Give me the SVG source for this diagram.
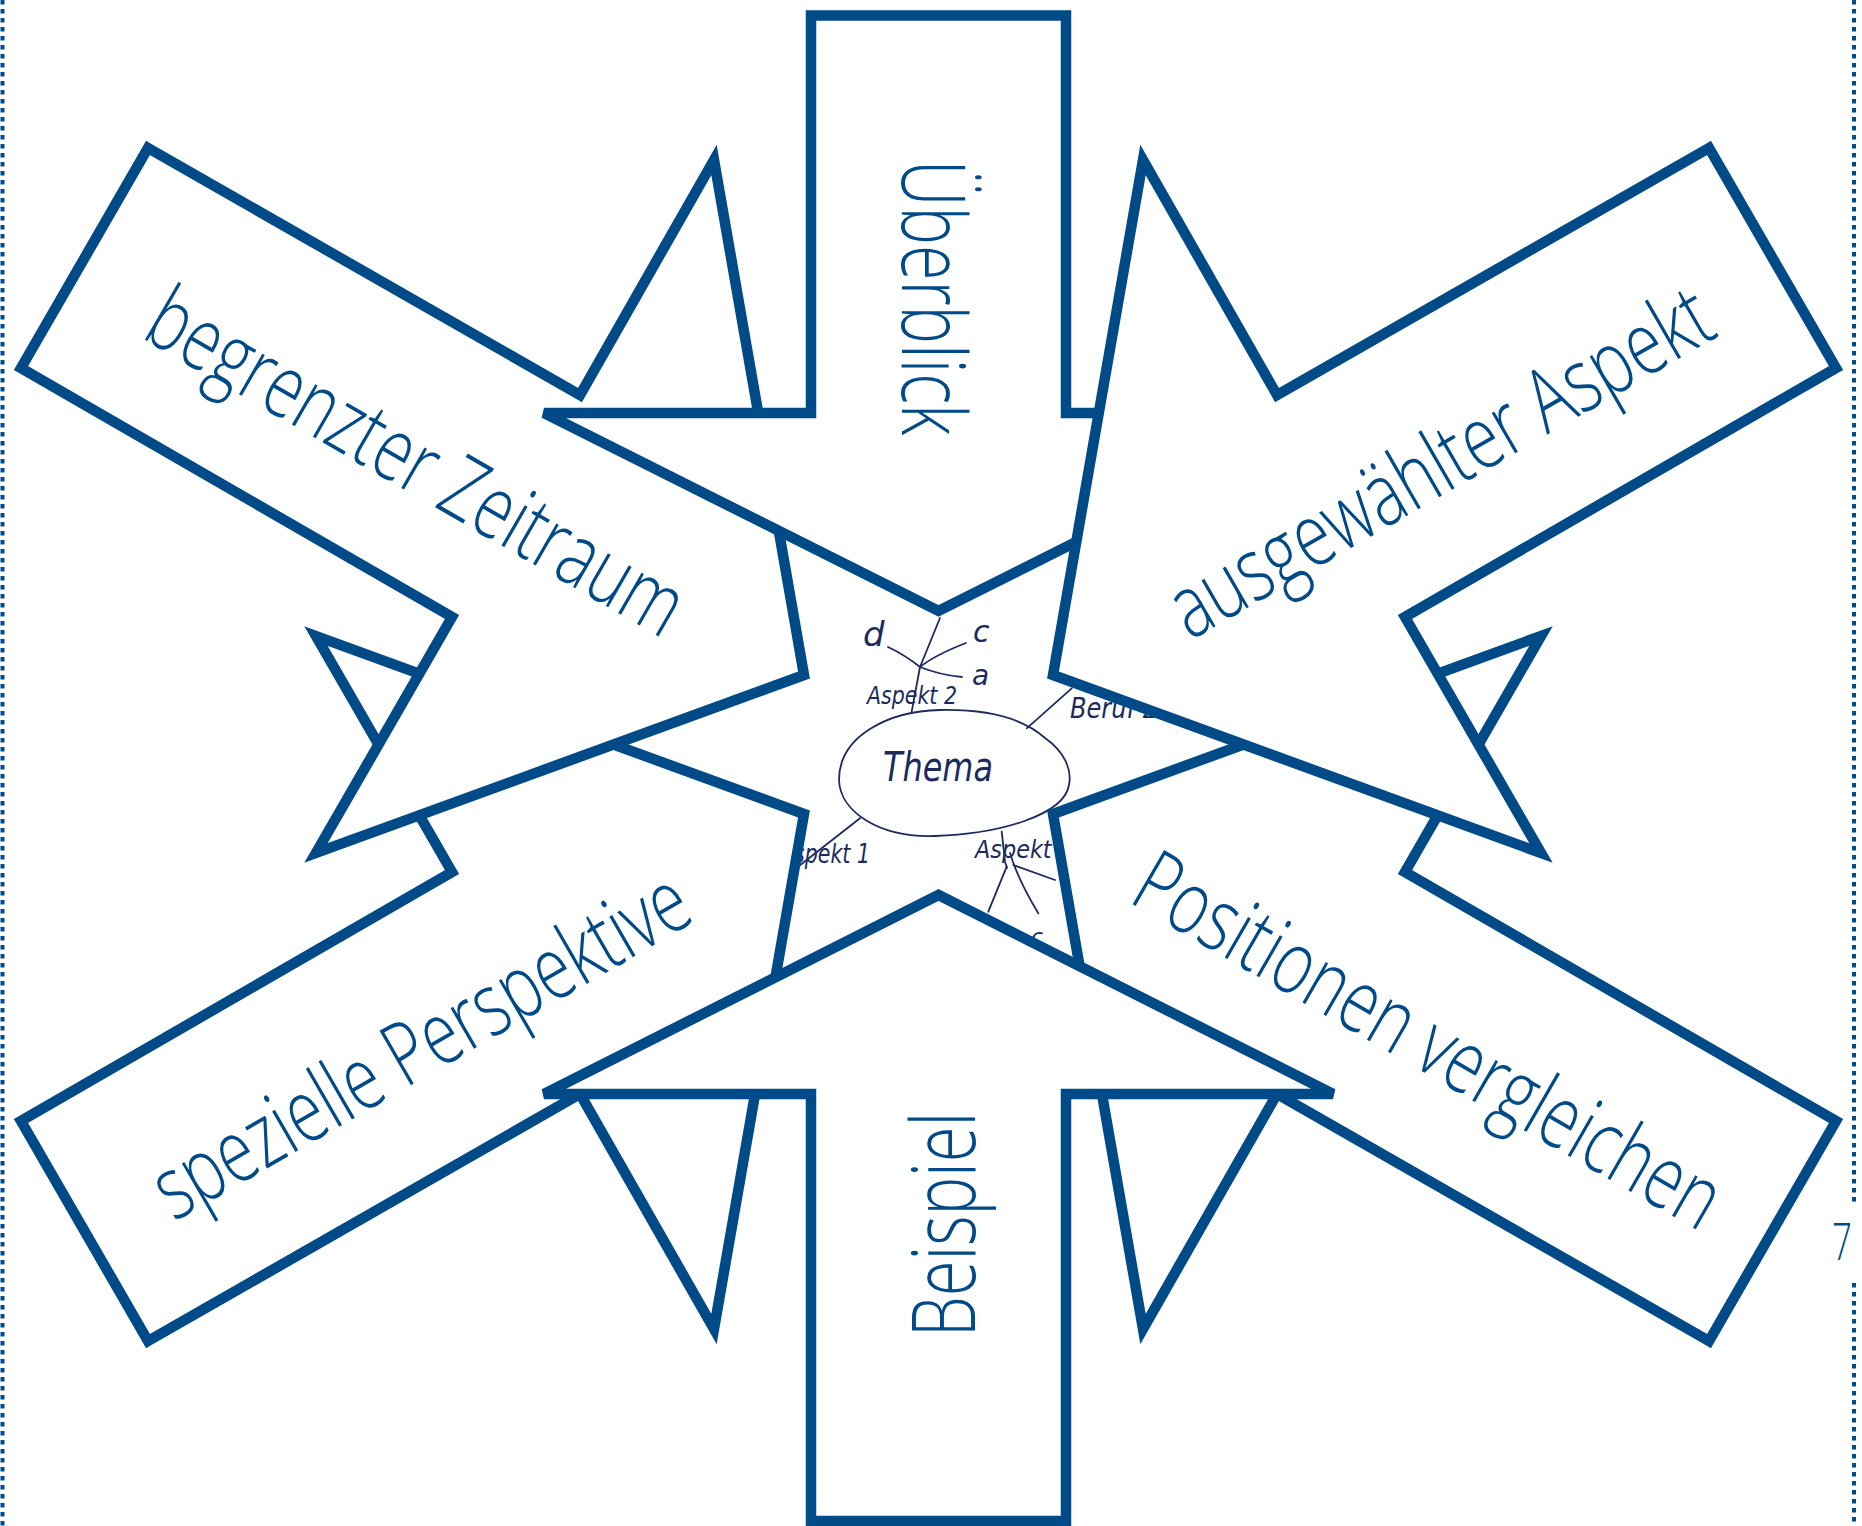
<svg xmlns="http://www.w3.org/2000/svg" width="1862" height="1526" viewBox="0 0 1862 1526">
<style>
.arrow{fill:#ffffff;stroke:#004b87;stroke-width:10.5;stroke-linejoin:miter;stroke-miterlimit:4}
.lbl{font-family:"Open Sans","Lato","Liberation Sans",sans-serif;font-weight:300;font-size:88px;fill:#004b87}
.sk{fill:none;stroke:#1c2a5c;stroke-width:1.8;stroke-linecap:round;stroke-linejoin:round}
.skt{font-family:"DejaVu Sans","Liberation Sans",sans-serif;font-style:italic;font-weight:300;fill:#1c2a5c}
.dots{stroke:#004b87;stroke-width:4;stroke-dasharray:4.5 4.5;fill:none}
</style>
<rect width="1862" height="1526" fill="#ffffff"/>
<g id="sketch">
  <path class="sk" d="M839,780 C839,735 890,711 940,710 C990,709 1025,720 1045,738 C1065,752 1072,770 1069,785 C1064,815 1000,834 935,836 C880,838 840,812 839,780 Z"/>
  <text class="skt" x="883" y="781" font-size="40" textLength="110" lengthAdjust="spacingAndGlyphs">Thema</text>
  <text class="skt" x="867" y="704" font-size="24" textLength="90" lengthAdjust="spacingAndGlyphs">Aspekt 2</text>
  <text class="skt" x="863" y="646" font-size="34">d</text>
  <text class="skt" x="973" y="642" font-size="30">c</text>
  <text class="skt" x="972" y="685" font-size="28">a</text>
  <text class="skt" x="1070" y="718" font-size="28" textLength="88" lengthAdjust="spacingAndGlyphs">Beruf 2</text>
  <text class="skt" x="780" y="863" font-size="26" textLength="90" lengthAdjust="spacingAndGlyphs">Aspekt 1</text>
  <text class="skt" x="975" y="858" font-size="24" textLength="98" lengthAdjust="spacingAndGlyphs">Aspekt 3</text>
  <text class="skt" x="1031" y="944" font-size="22">c</text>
  <g id="connectors">
    <path class="sk" d="M911.7,711.7 L920,667 L940,618"/>
    <path class="sk" d="M920,667 Q905,655 888,647"/>
    <path class="sk" d="M920,667 Q935,655 966,643"/>
    <path class="sk" d="M920,667 Q940,675 962,677"/>
    <path class="sk" d="M1026.7,728.3 L1071.7,688.3"/>
    <path class="sk" d="M860,818.3 L790,873"/>
    <path class="sk" d="M1001.7,831.7 L1005,861.7 L1007,868"/>
    <path class="sk" d="M1006.7,866.7 L988.3,911.7"/>
    <path class="sk" d="M1010,853 Q1018,880 1038.3,913.3"/>
    <path class="sk" d="M1013.3,865 L1055,880"/>
  </g>
</g>
<g id="speziell-perspektive">
  <polygon class="arrow" points="148,1341 580,1094 714,1329 804,814 316,636 452,872 21,1121"/>
  <text class="lbl" transform="translate(174,1222) rotate(-30) scale(0.715,1)" textLength="845" lengthAdjust="spacingAndGlyphs">spezielle Perspektive</text>
</g>
<g id="positionen-vergleichen">
  <polygon class="arrow" points="1709,1341 1277,1094 1143,1329 1053,814 1541,636 1405,872 1836,1121"/>
  <text class="lbl" transform="translate(1127,901) rotate(30) scale(0.715,1)" textLength="926" lengthAdjust="spacingAndGlyphs">Positionen vergleichen</text>
</g>
<g id="begrenzter-zeitraum">
  <polygon class="arrow" points="148,148 580,395 714,160 804,675 316,853 452,617 21,368"/>
  <text class="lbl" transform="translate(140,337) rotate(30) scale(0.715,1)" textLength="845" lengthAdjust="spacingAndGlyphs">begrenzter Zeitraum</text>
</g>
<g id="ueberblick">
  <polygon class="arrow" points="811,15.5 1066,15.5 1066,413 1333,413 938.5,611 544,413 811,413"/>
  <text class="lbl" transform="translate(902,160) rotate(90) scale(0.715,1)" textLength="385" lengthAdjust="spacingAndGlyphs">Überblick</text>
</g>
<g id="ausgewaehlter-aspekt">
  <polygon class="arrow" points="1709,148 1277,395 1143,160 1053,675 1541,853 1405,617 1836,368"/>
  <text class="lbl" transform="translate(1190,641) rotate(-30) scale(0.715,1)" textLength="856" lengthAdjust="spacingAndGlyphs">ausgewählter Aspekt</text>
</g>
<g id="beispiel">
  <polygon class="arrow" points="811,1521 1066,1521 1066,1094 1333,1094 938.5,895 544,1094 811,1094"/>
  <text class="lbl" transform="translate(975,1337) rotate(-90) scale(0.715,1)" textLength="315" lengthAdjust="spacingAndGlyphs">Beispiel</text>
</g>
<g id="page">
  <line class="dots" x1="2.5" y1="0" x2="2.5" y2="1526"/>
  <line class="dots" x1="1854" y1="0" x2="1854" y2="1203"/>
  <line class="dots" x1="1854" y1="1283" x2="1854" y2="1526"/>
  <text x="1832" y="1260" font-family="Open Sans, Liberation Sans, sans-serif" font-weight="300" font-size="52" fill="#004b87" textLength="20" lengthAdjust="spacingAndGlyphs">7</text>
</g>
</svg>
